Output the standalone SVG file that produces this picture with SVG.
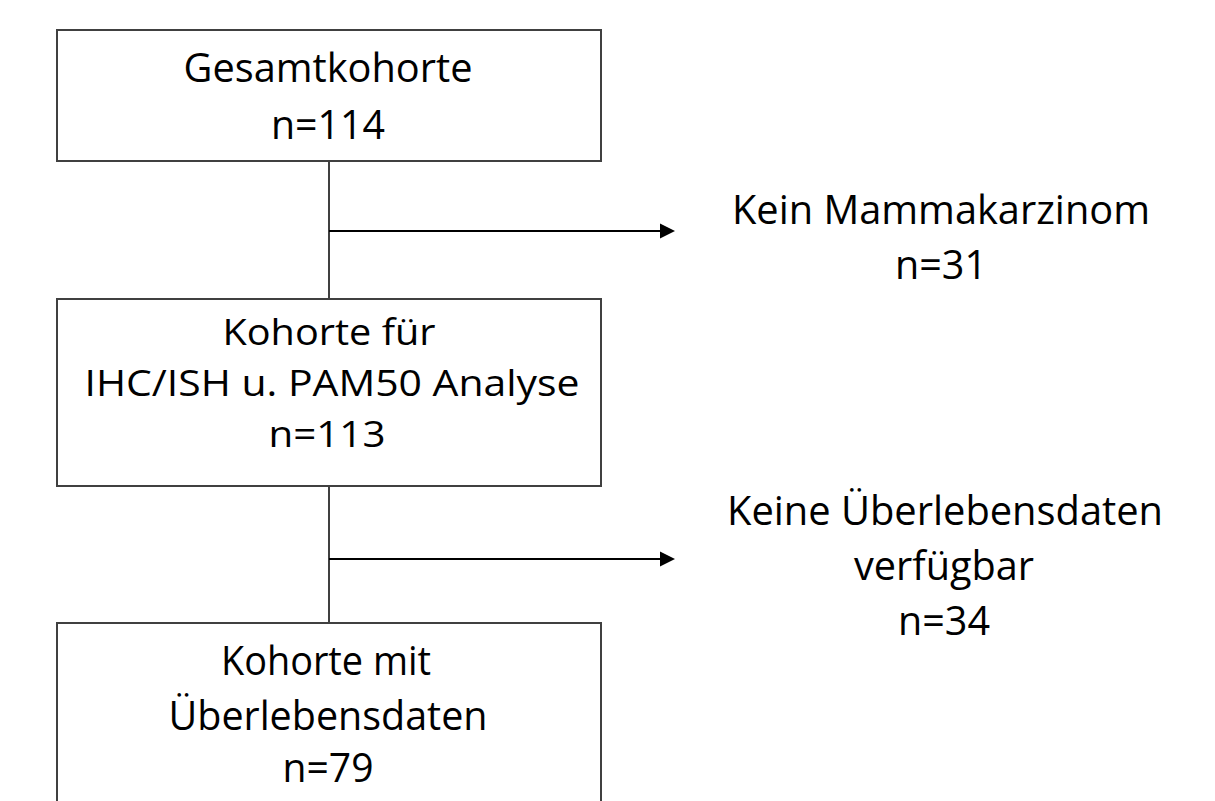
<svg xmlns="http://www.w3.org/2000/svg" width="1215" height="801" viewBox="0 0 1215 801">
<defs>
<style>
.box{fill:#fff;stroke:#404040;stroke-width:2}
.ln{stroke:#404040;stroke-width:2;fill:none}
.ar{stroke:#000;stroke-width:2;fill:none}
.hd{fill:#000}
text{font-family:"Open Sans","Liberation Sans",sans-serif;font-size:40px;fill:#000;text-anchor:middle}
.t2{font-size:37px}
</style>
</defs>
<rect width="1215" height="801" fill="#fff"/>
<g id="connectors">
<line class="ln" x1="329" y1="161" x2="329" y2="299"/>
<line class="ln" x1="329" y1="486" x2="329" y2="623"/>
<line class="ar" x1="329" y1="231" x2="662" y2="231"/>
<polygon class="hd" points="660,223.5 675,231 660,238.5"/>
<line class="ar" x1="329" y1="559" x2="662" y2="559"/>
<polygon class="hd" points="660,551.5 675,559 660,566.5"/>
</g>
<g id="n1">
<rect class="box" x="57" y="30" width="544" height="131"/>
<text x="328" y="82" textLength="289" lengthAdjust="spacingAndGlyphs">Gesamtkohorte</text>
<text x="328" y="139" textLength="114" lengthAdjust="spacingAndGlyphs">n=114</text>
</g>
<g id="n2">
<text x="941" y="224" textLength="418" lengthAdjust="spacingAndGlyphs">Kein Mammakarzinom</text>
<text x="941" y="279" textLength="92" lengthAdjust="spacingAndGlyphs">n=31</text>
</g>
<g id="n3">
<rect class="box" x="57" y="299" width="544" height="187"/>
<text class="t2" x="329" y="345" textLength="213" lengthAdjust="spacingAndGlyphs">Kohorte für</text>
<text class="t2" x="332" y="396" textLength="495" lengthAdjust="spacingAndGlyphs">IHC/ISH u. PAM50 Analyse</text>
<text class="t2" x="327" y="447" textLength="117" lengthAdjust="spacingAndGlyphs">n=113</text>
</g>
<g id="n4">
<text x="945" y="525" textLength="436" lengthAdjust="spacingAndGlyphs">Keine Überlebensdaten</text>
<text x="944" y="580" textLength="180" lengthAdjust="spacingAndGlyphs">verfügbar</text>
<text x="944" y="635" textLength="92" lengthAdjust="spacingAndGlyphs">n=34</text>
</g>
<g id="n5">
<rect class="box" x="57" y="623" width="544" height="200"/>
<text x="326" y="675" textLength="210" lengthAdjust="spacingAndGlyphs">Kohorte mit</text>
<text x="328" y="730" textLength="319" lengthAdjust="spacingAndGlyphs">Überlebensdaten</text>
<text x="328" y="782" textLength="91" lengthAdjust="spacingAndGlyphs">n=79</text>
</g>
</svg>
